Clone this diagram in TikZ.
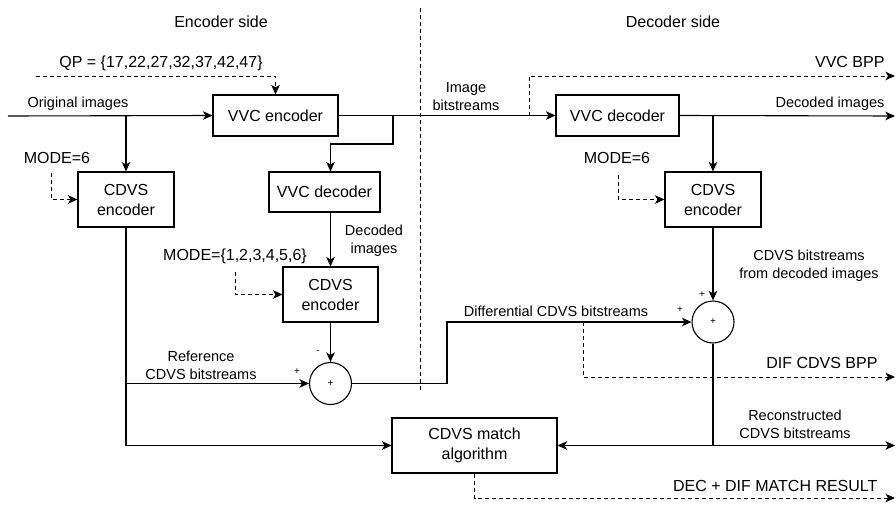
\documentclass[tikz,border=0pt]{standalone}
\usepackage{fontspec}
\setmainfont{Liberation Sans}
\usetikzlibrary{arrows.meta}
\newcommand\fntbig{\fontsize{16}{20}\selectfont}
\newcommand\fntsmall{\fontsize{14.5}{18}\selectfont}
\newcommand\fnttiny{\fontsize{10}{12}\selectfont}
\begin{document}
\begin{tikzpicture}[x=1pt,y=-1pt,
  line width=1.1pt,
  box/.style={draw, fill=white, inner sep=0pt, align=center, font=\fntbig},
  sumnode/.style={draw, circle, minimum size=42pt, inner sep=0pt, font=\fnttiny},
  arr/.style={-{Stealth[length=9.5pt,width=8.5pt,inset=2.5pt]}},
  darr/.style={arr, line width=1pt, dash pattern=on 4pt off 3pt},
  divider/.style={line width=0.9pt, dash pattern=on 4pt off 3pt},
  big/.style={inner sep=0pt, font=\fntbig, align=center},
  small/.style={inner sep=0pt, font=\fntsmall, align=center},
  sign/.style={inner sep=0pt, font=\fnttiny}
]
\useasboundingbox (0,0) rectangle (896,511);

% divider
\coordinate (dvtop) at (420,8);
\coordinate (dvbot) at (420,390);
\draw[divider] (dvtop) -- (dvbot);

% headings
\node[big] (hEnc) at (221,22) {Encoder side};
\node[big] (hDec) at (673,22) {Decoder side};

% boxes
\node[box, minimum width=125pt, minimum height=41pt] (venc) at (275.5,115.5) {VVC encoder};
\node[box, minimum width=96pt, minimum height=55pt] (cdvs1) at (126,199.5) {CDVS\\encoder};
\node[box, minimum width=111pt, minimum height=40pt] (vdec1) at (324.5,192) {VVC decoder};
\node[box, minimum width=95pt, minimum height=55pt] (cdvs2) at (330.5,294.5) {CDVS\\encoder};
\node[sumnode] (sum1) at (330.5,383.5) {+};
\node[box, minimum width=165pt, minimum height=55pt] (match) at (474.5,445.5) {CDVS match\\algorithm};
\node[box, minimum width=123pt, minimum height=41pt] (vdec2) at (617.5,115.5) {VVC decoder};
\node[box, minimum width=96pt, minimum height=55pt] (cdvs3) at (713,199.5) {CDVS\\encoder};
\node[sumnode] (sum2) at (713,322) {+};

% coordinates
\coordinate (in) at (8,116);
\coordinate (b1) at (126,116);
\coordinate (b2) at (393,116);
\coordinate (b2a) at (393,144);
\coordinate (b3) at (529,116);
\coordinate (b4) at (713,116);
\coordinate (qp) at (36,76);
\coordinate (m1) at (51,173);
\coordinate (m2) at (235,272);
\coordinate (m3) at (618,175);
\coordinate (k2) at (447,322);
\coordinate (d1) at (583,322);
\coordinate (b5) at (713,445.5);
\coordinate (o0) at (895,76);
\coordinate (o1) at (895,116);
\coordinate (o3) at (895,377);
\coordinate (o4) at (895,445.5);
\coordinate (o5) at (895,498);

% solid connectors
\draw[arr] (in) -- (venc.west);
\draw[arr] (b1) -- (cdvs1.north);
\draw[arr] (venc.east) -- (vdec2.west);
\draw[arr] (b2) -- (b2a) -| (vdec1.north -| cdvs2.north);
\draw[arr] (vdec1.south -| cdvs2.north) -- (cdvs2.north);
\draw[arr] (cdvs2.south) -- (sum1.north);
\draw[arr] (cdvs1.south) |- (match.west);
\draw[arr] (cdvs1.south |- sum1) -- (sum1.west);
\draw[arr] (sum1.east) -| (k2) -- (sum2.west);
\draw[arr] (vdec2.east) -- (o1);
\draw[arr] (b4) -- (cdvs3.north);
\draw[arr] (cdvs3.south) -- (sum2.north);
\draw (sum2.south) -- (b5);
\draw[arr] (b5) -- (match.east);
\draw[arr] (b5) -- (o4);

% dashed connectors
\draw[darr] (qp) -| (venc.north);
\draw[darr] (m1) |- (cdvs1.west);
\draw[darr] (m2) |- (cdvs2.west);
\draw[darr] (m3) |- (cdvs3.west);
\draw[darr] (b3) |- (o0);
\draw[darr] (d1) |- (o3);
\draw[darr] (match.south) |- (o5);

% labels
\node[big] (lqp) at (161,63) {QP = \{17,22,27,32,37,42,47\}};
\node[small] (lorig) at (78,104) {Original images};
\node[big] (lm1) at (57,158) {MODE=6};
\node[small] (ldec1) at (374,241) {Decoded\\images};
\node[big] (lm2) at (235,256) {MODE=\{1,2,3,4,5,6\}};
\node[small] (lref) at (201,365) {Reference\\CDVS bitstreams};
\node[sign] (sminus) at (318,352) {-};
\node[sign] (splus1) at (297,372) {+};
\node[small] (limg) at (466,97) {Image\\bitstreams};
\node[big, anchor=east] (lvbpp) at (885,62) {VVC BPP};
\node[small, anchor=east] (ldec2) at (885,104) {Decoded images};
\node[big] (lm3) at (617,158) {MODE=6};
\node[small] (lcdb) at (809,266) {CDVS bitstreams\\from decoded images};
\node[small] (ldiff) at (556,311) {Differential CDVS bitstreams};
\node[sign] (splus2) at (680,310) {+};
\node[sign] (splus3) at (702,295) {+};
\node[big, anchor=east] (ldif) at (878,363) {DIF CDVS BPP};
\node[small] (lrec) at (795,424.5) {Reconstructed\\CDVS bitstreams};
\node[big, anchor=east] (lres) at (878,486) {DEC + DIF MATCH RESULT};
\end{tikzpicture}
\end{document}
